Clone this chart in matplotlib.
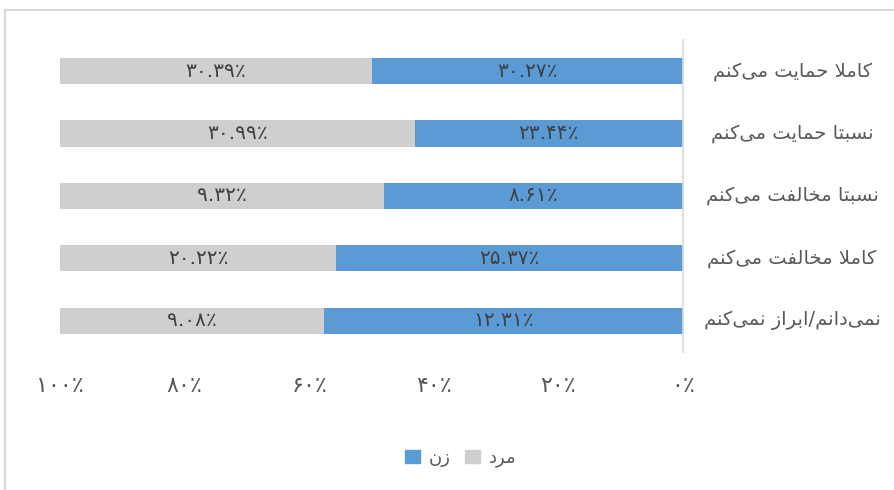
import matplotlib
matplotlib.use('Agg')
import matplotlib.pyplot as plt
from matplotlib.lines import Line2D
from matplotlib.patches import Patch
import numpy as np

# Data: share of each answer, by gender.
categories = ['کاملا حمایت می‌کنم', 'نسبتا حمایت می‌کنم', 'نسبتا مخالفت می‌کنم',
              'کاملا مخالفت می‌کنم', 'نمی‌دانم/ابراز نمی‌کنم']
women = [30.27, 23.44, 8.61, 25.37, 12.31]   # زن
men = [30.39, 30.99, 9.32, 20.22, 9.08]      # مرد
series_names = ['زن', 'مرد']
xticks = [0, 20, 40, 60, 80, 100]

blue = '#5B9BD5'
gray = '#D0CECE'

# matplotlib does no arabic shaping, so do it by hand for the letters we use.
# (isolated, final, initial, medial)
FORMS = {
    'ا': ('\uFE8D', '\uFE8E', None, None),
    'ب': ('\uFE8F', '\uFE90', '\uFE91', '\uFE92'),
    'ت': ('\uFE95', '\uFE96', '\uFE97', '\uFE98'),
    'ح': ('\uFEA1', '\uFEA2', '\uFEA3', '\uFEA4'),
    'خ': ('\uFEA5', '\uFEA6', '\uFEA7', '\uFEA8'),
    'د': ('\uFEA9', '\uFEAA', None, None),
    'ر': ('\uFEAD', '\uFEAE', None, None),
    'ز': ('\uFEAF', '\uFEB0', None, None),
    'س': ('\uFEB1', '\uFEB2', '\uFEB3', '\uFEB4'),
    'ف': ('\uFED1', '\uFED2', '\uFED3', '\uFED4'),
    'ل': ('\uFEDD', '\uFEDE', '\uFEDF', '\uFEE0'),
    'م': ('\uFEE1', '\uFEE2', '\uFEE3', '\uFEE4'),
    'ن': ('\uFEE5', '\uFEE6', '\uFEE7', '\uFEE8'),
    'ک': ('\uFB8E', '\uFB8F', '\uFB90', '\uFB91'),
    'ی': ('\uFBFC', '\uFBFD', '\uFBFE', '\uFBFF'),
}


def joins_forward(c):
    return c in FORMS and FORMS[c][2] is not None


def shape(text):
    res = []
    i = 0
    n = len(text)
    while i < n:
        c = text[i]
        if c == '\u200c':
            i += 1
            continue
        if c not in FORMS:
            res.append(c)
            i += 1
            continue
        prev = text[i-1] if i > 0 else ''
        nxt = text[i+1] if i + 1 < n else ''
        conn_prev = joins_forward(prev)
        if c == 'ل' and nxt == 'ا':
            res.append('\uFEFC' if conn_prev else '\uFEFB')
            i += 2
            continue
        conn_next = joins_forward(c) and nxt in FORMS
        f = FORMS[c]
        if conn_prev and conn_next:
            res.append(f[3])
        elif conn_prev:
            res.append(f[1])
        elif conn_next:
            res.append(f[2])
        else:
            res.append(f[0])
        i += 1
    return ''.join(reversed(res))


def fa_num(s):
    return s.translate(str.maketrans('0123456789', '۰۱۲۳۴۵۶۷۸۹'))


def pct_label(v):
    return fa_num('%.2f' % v) + '٪'


women = np.array(women)
men = np.array(men)
tot = women + men
w_share = women / tot * 100
m_share = men / tot * 100
y = np.arange(len(categories))

fig = plt.figure(figsize=(8.94, 4.9), dpi=100)
ax = fig.add_axes([0.0671, 0.2816, 0.697, 0.637])

ax.barh(y, w_share, height=0.42, color=blue, label=series_names[0])
ax.barh(y, m_share, left=w_share, height=0.42, color=gray, label=series_names[1])

for i in range(len(y)):
    ax.text(w_share[i] / 2, y[i], pct_label(women[i]), ha='center', va='center',
            fontsize=14.5, color='#404040')
    ax.text(w_share[i] + m_share[i] / 2, y[i], pct_label(men[i]), ha='center', va='center',
            fontsize=14.5, color='#404040')
    ax.text(1.175, y[i], shape(categories[i]), transform=ax.get_yaxis_transform(),
            ha='center', va='center', fontsize=14, color='#595959')

ax.set_xlim(100, 0)
ax.set_ylim(len(y) - 0.5, -0.5)
ax.set_xticks(xticks)
ax.set_xticklabels([fa_num(str(t)) + '٪' for t in xticks], fontsize=16, color='#595959')
ax.tick_params(axis='x', length=0, pad=17)
ax.set_yticks([])
for s in ['top', 'left', 'bottom']:
    ax.spines[s].set_visible(False)
ax.spines['right'].set_color('#d9d9d9')
ax.spines['right'].set_linewidth(1.2)

handles = [Patch(color=blue), Patch(color=gray)]
fig.legend(handles, [shape(s) for s in series_names], loc='center',
           bbox_to_anchor=(461 / 894, 1 - 458 / 490), ncol=2, frameon=False,
           fontsize=13, labelcolor='#595959', handlelength=0.8, handleheight=0.8,
           handletextpad=0.5, columnspacing=0.8)

# outer chart frame (only left and top edges are visible in the crop)
fig.add_artist(Line2D([5 / 894, 5 / 894], [0, 1 - 10 / 490], color='#d9d9d9', lw=1.5))
fig.add_artist(Line2D([5 / 894, 1], [1 - 10 / 490, 1 - 10 / 490], color='#d9d9d9', lw=1.5))

fig.savefig('out.png', dpi=100)
